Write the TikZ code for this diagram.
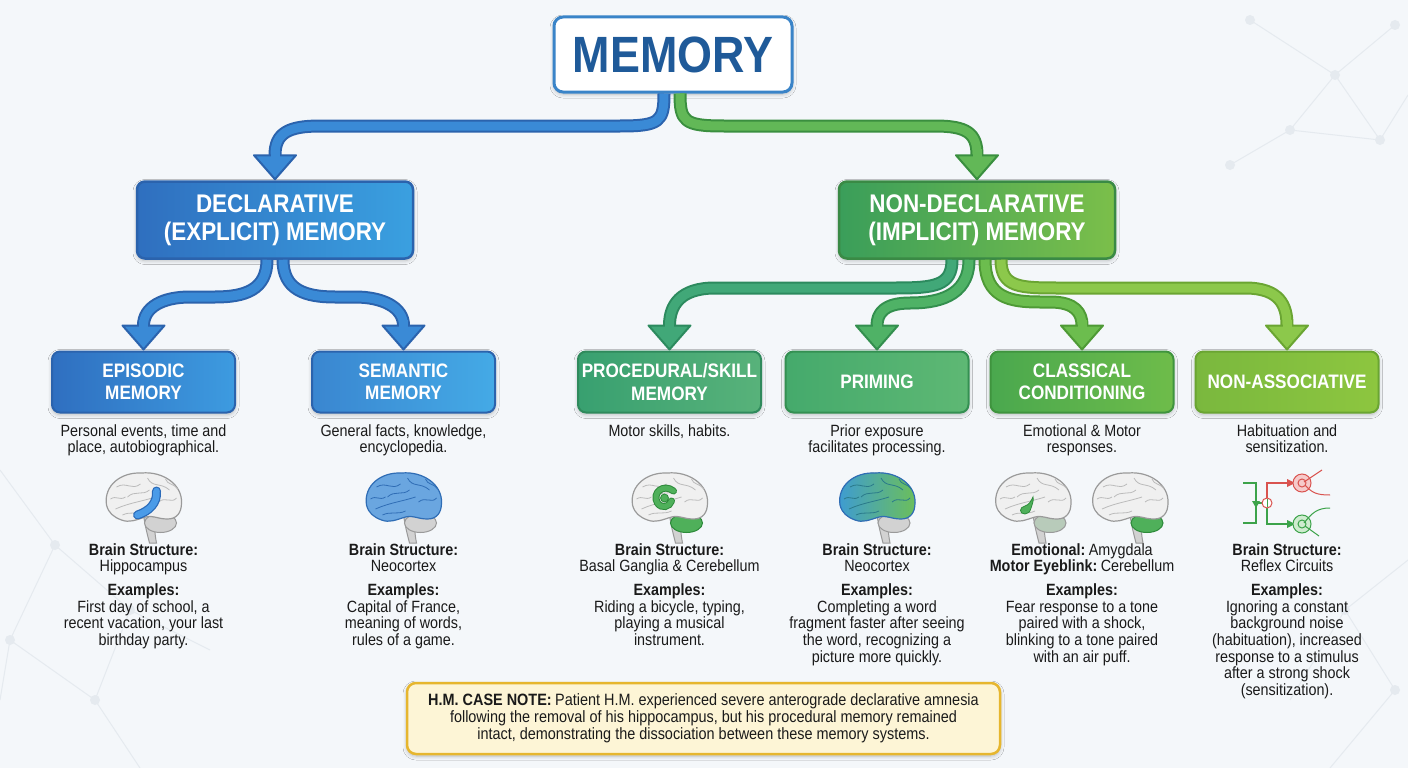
\documentclass[tikz,border=0pt]{standalone}
\usepackage{fontspec}
\setmainfont{Liberation Sans}[FakeStretch=0.88]
\usetikzlibrary{calc,shadows.blur}
\definecolor{bg}{HTML}{F4F7FA}
\definecolor{net}{HTML}{E5EAEF}
\definecolor{txt}{HTML}{1A1A1A}
\definecolor{memblue}{HTML}{1F5A99}
\definecolor{memborder}{HTML}{3A84C8}
\definecolor{bOut}{HTML}{2B63AD}
\definecolor{bFill}{HTML}{3A8AD6}
\definecolor{gOut}{HTML}{3A8F3F}
\definecolor{gFill}{HTML}{62B857}
\definecolor{pOut}{HTML}{2C8A5E}
\definecolor{pFill}{HTML}{41A878}
\definecolor{qOut}{HTML}{338F4E}
\definecolor{qFill}{HTML}{4FB266}
\definecolor{cOut}{HTML}{4E9A35}
\definecolor{cFill}{HTML}{6CBD4E}
\definecolor{nOut}{HTML}{6AA532}
\definecolor{nFill}{HTML}{8CC84B}
\definecolor{noteFill}{HTML}{FDF5D6}
\definecolor{noteBorder}{HTML}{E6B62E}
\definecolor{brGray}{HTML}{F0F0F0}
\definecolor{brLine}{HTML}{9A9A9A}
\definecolor{brGyri}{HTML}{BBBBBB}
\definecolor{cbGray}{HTML}{D2D2D2}
\definecolor{hiBlue}{HTML}{4A9BE8}
\definecolor{hiBlueD}{HTML}{2A6AB8}
\definecolor{hiGreen}{HTML}{4FB05A}
\definecolor{hiGreenD}{HTML}{2D8A3A}
\definecolor{rRed}{HTML}{D9534F}
\definecolor{rRedL}{HTML}{F6CACA}
\definecolor{rGreen}{HTML}{3CA34A}
\definecolor{rGreenL}{HTML}{CFECCF}
\definecolor{decL}{HTML}{2F6FBF}
\definecolor{decR}{HTML}{3AA0E0}
\definecolor{ndL}{HTML}{3A9E5A}
\definecolor{ndR}{HTML}{7BBF4A}
\definecolor{ndOut}{HTML}{3A8A45}
\definecolor{epL}{HTML}{2F6FC0}
\definecolor{epR}{HTML}{3D9BE0}
\definecolor{smL}{HTML}{3A86D0}
\definecolor{smR}{HTML}{44AAE6}
\definecolor{prL}{HTML}{38A070}
\definecolor{prR}{HTML}{58B27A}
\definecolor{prOut}{HTML}{2F8A5C}
\definecolor{pmL}{HTML}{45AA6C}
\definecolor{pmR}{HTML}{5EB874}
\definecolor{pmOut}{HTML}{349052}
\definecolor{clL}{HTML}{4AA84E}
\definecolor{clR}{HTML}{6EBC4A}
\definecolor{clOut}{HTML}{3F943E}
\definecolor{naL}{HTML}{7AB83E}
\definecolor{naR}{HTML}{8DC63F}
\definecolor{naOut}{HTML}{6AA532}
\definecolor{primL}{HTML}{3D9BD4}
\definecolor{primR}{HTML}{6CBF5A}
\definecolor{primLine}{HTML}{2A7A8A}
\definecolor{semFill}{HTML}{6AA6E0}
\definecolor{semLine}{HTML}{2F6DB5}
\tikzset{
  boxshadow/.style={blur shadow={shadow blur steps=8,shadow xshift=0pt,shadow yshift=-2pt,shadow opacity=25,shadow blur radius=4pt}},
  topbox/.style={draw=memborder,line width=3pt,fill=white,rounded corners=9pt,minimum width=238pt,minimum height=75pt,inner sep=0pt,boxshadow,
    font=\fontsize{51}{51}\selectfont\bfseries,text=memblue},
  midbox/.style={rounded corners=8pt,line width=2.5pt,minimum width=276pt,minimum height=77pt,inner sep=0pt,align=center,boxshadow,
    font=\fontsize{25.5}{28.5}\selectfont\bfseries,text=white},
  catbox/.style={rounded corners=8pt,line width=2pt,minimum width=183pt,minimum height=61pt,inner sep=0pt,align=center,boxshadow,
    font=\fontsize{19.5}{22.5}\selectfont\bfseries,text=white},
  desc/.style={anchor=north,align=center,inner sep=0pt,text=txt,font=\fontsize{16.3}{16.7}\selectfont},
  notebox/.style={draw=noteBorder,line width=2.5pt,fill=noteFill,rounded corners=9pt,minimum width=593pt,minimum height=71pt,align=center,inner sep=0pt,
    text=txt,font=\fontsize{16.4}{17}\selectfont,boxshadow},
  netline/.style={draw=net,line width=1pt},
  netdot/.style={fill=net},
}
\newcommand\flowarrow[4]{%
  \draw[line width=13pt,draw=#1,line join=round] #3;
  \draw[line width=9pt,draw=#2] #3;
  \filldraw[fill=#2,draw=#1,line width=2pt,line join=round] ($(#4.north)+(-21,-25)$) -- ($(#4.north)+(21,-25)$) -- ($(#4.north)+(0,-1)$) -- cycle;
  \draw[line width=9pt,draw=#2] ($(#4.north)+(0,-31)$) -- ($(#4.north)+(0,-22)$);
}
% brain: #1 cerebrum style, #2 gyri colour, #3 cerebellum style
\newcommand\brainicon[3]{%
  \filldraw[fill=cbGray,draw=brLine,line width=1pt] (0,12) .. controls (2,25) and (4,32) .. (6,40) -- (13,40) .. controls (11,30) and (11,22) .. (11,12) -- cycle;
  \filldraw[#3,line width=1pt] (17,20) ellipse [x radius=16,y radius=9.5];
  \filldraw[#1,line width=1.2pt] (-37,2) .. controls (-40,-18) and (-22,-31) .. (-2,-30) .. controls (20,-32) and (39,-18) .. (38,0) .. controls (38,10) and (33,16) .. (24,16) .. controls (14,16) and (10,12) .. (2,14) .. controls (-8,17) and (-14,20) .. (-22,17) .. controls (-30,14) and (-35,10) .. (-37,2) -- cycle;
  \draw[#2,line width=0.8pt] (-28,6) .. controls (-15,0) and (0,-2) .. (12,-6);
  \draw[#2,line width=0.8pt] (-27,-16) .. controls (-17,-22) and (-12,-12) .. (-3,-19);
  \draw[#2,line width=0.8pt] (4,-25) .. controls (9,-15) and (17,-21) .. (26,-13);
  \draw[#2,line width=0.8pt] (-16,-6) .. controls (-9,-13) and (-1,-7) .. (6,-13);
  \draw[#2,line width=0.8pt] (15,-1) .. controls (22,-7) and (28,1) .. (33,-5);
  \draw[#2,line width=0.8pt] (-21,12) .. controls (-13,8) and (-6,12) .. (2,8);
  \draw[#2,line width=0.8pt] (-33,-4) .. controls (-27,-8) and (-24,-2) .. (-18,-6);
  \draw[#2,line width=0.8pt] (22,-24) .. controls (24,-18) and (30,-20) .. (34,-14);
}
\begin{document}
\begin{tikzpicture}[x=1pt,y=-1pt]
\useasboundingbox (0,0) rectangle (1408,768);
\fill[bg] (0,0) rectangle (1408,768);
% faint network background
\draw[netline] (1250,20) -- (1335,75) -- (1395,25) (1335,75) -- (1290,130) -- (1380,140) -- (1408,95) (1335,75) -- (1380,140) (1290,130) -- (1230,165);
\foreach \p in {(1250,20),(1335,75),(1395,25),(1290,130),(1380,140),(1230,165)} \fill[netdot] \p circle (5);
\draw[netline] (0,470) -- (55,545) -- (10,640) -- (95,700) -- (140,768) (55,545) -- (130,610) -- (95,700) (10,640) -- (0,700) (130,610) -- (210,650);
\foreach \p in {(55,545),(10,640),(95,700),(130,610)} \fill[netdot] \p circle (5);
\draw[netline] (1408,560) -- (1345,610) -- (1395,690) -- (1330,768) (1345,610) -- (1290,700);
\foreach \p in {(1345,610),(1395,690)} \fill[netdot] \p circle (5);

% boxes
\node[topbox] (mem) at (673,54.5) {MEMORY};
\node[midbox,left color=decL,right color=decR,draw=bOut] (dec) at (275,220) {DECLARATIVE\\(EXPLICIT) MEMORY};
\node[midbox,left color=ndL,right color=ndR,draw=ndOut] (nondec) at (977,220) {NON-DECLARATIVE\\(IMPLICIT) MEMORY};
\node[catbox,left color=epL,right color=epR,draw=bOut] (epi) at (143.5,382) {EPISODIC\\MEMORY};
\node[catbox,left color=smL,right color=smR,draw=bOut] (sem) at (403.5,382) {SEMANTIC\\MEMORY};
\node[catbox,left color=prL,right color=prR,draw=prOut] (proc) at (669.5,382) {PROCEDURAL/SKILL\\MEMORY};
\node[catbox,left color=pmL,right color=pmR,draw=pmOut] (prim) at (877,382) {PRIMING};
\node[catbox,left color=clL,right color=clR,draw=clOut] (class) at (1082,382) {CLASSICAL\\CONDITIONING};
\node[catbox,left color=naL,right color=naR,draw=naOut] (nona) at (1287,382) {NON-ASSOCIATIVE};

% connectors
\flowarrow{bOut}{bFill}{($(mem.south)+(-9,0)$) .. controls +(0,28) and +(40,0) .. (620,126) -- (320,126) .. controls +(-32,0) and +(0,-22) .. ($(dec.north)+(0,-25)$)}{dec}
\flowarrow{gOut}{gFill}{($(mem.south)+(7,0)$) .. controls +(0,28) and +(-40,0) .. (724,126) -- (935,126) .. controls +(32,0) and +(0,-22) .. ($(nondec.north)+(0,-25)$)}{nondec}
\flowarrow{bOut}{bFill}{($(dec.south)+(-8,0)$) .. controls +(0,30) and +(30,0) .. (215,297) -- (190,297) .. controls +(-28,0) and +(0,-18) .. ($(epi.north)+(0,-25)$)}{epi}
\flowarrow{bOut}{bFill}{($(dec.south)+(8,0)$) .. controls +(0,30) and +(-30,0) .. (335,297) -- (355,297) .. controls +(28,0) and +(0,-18) .. ($(sem.north)+(0,-25)$)}{sem}
\flowarrow{pOut}{pFill}{($(nondec.south)+(-25,0)$) .. controls +(0,26) and +(40,0) .. (895,288) -- (715,288) .. controls +(-35,0) and +(0,-20) .. ($(proc.north)+(0,-25)$)}{proc}
\flowarrow{nOut}{nFill}{($(nondec.south)+(24,0)$) .. controls +(0,28) and +(-40,0) .. (1060,288) -- (1245,288) .. controls +(35,0) and +(0,-20) .. ($(nona.north)+(0,-25)$)}{nona}
\flowarrow{qOut}{qFill}{($(nondec.south)+(-8,0)$) .. controls +(0,38) and +(25,0) .. (910,303) .. controls +(-26,0) and +(0,-12) .. ($(prim.north)+(0,-25)$)}{prim}
\flowarrow{cOut}{cFill}{($(nondec.south)+(8,0)$) .. controls +(0,38) and +(-30,0) .. (1040,302) -- (1050,302) .. controls +(26,0) and +(0,-12) .. ($(class.north)+(0,-25)$)}{class}

% descriptions
\node[desc] (epiD) at (143.5,424) {Personal events, time and\\place, autobiographical.};
\node[desc] (semD) at (403.5,424) {General facts, knowledge,\\encyclopedia.};
\node[desc] (procD) at (669.5,424) {Motor skills, habits.};
\node[desc] (primD) at (877,424) {Prior exposure\\facilitates processing.};
\node[desc] (classD) at (1082,424) {Emotional \& Motor\\responses.};
\node[desc] (nonaD) at (1287,424) {Habituation and\\sensitization.};

% brain icons
\begin{scope}[shift={(143.5,503)}]
  \brainicon{fill=brGray,draw=brLine}{brGyri}{fill=cbGray,draw=brLine}
  \draw[line width=9pt,hiBlueD,line cap=round] (-6,12) .. controls (6,8) and (14,0) .. (13,-12);
  \draw[line width=6.5pt,hiBlue,line cap=round] (-6,12) .. controls (6,8) and (14,0) .. (13,-12);
\end{scope}
\begin{scope}[shift={(403.5,503)}]
  \brainicon{fill=semFill,draw=semLine}{semLine}{fill=cbGray,draw=brLine}
\end{scope}
\begin{scope}[shift={(669.5,503)}]
  \brainicon{fill=brGray,draw=brLine}{brGyri}{fill=hiGreen,draw=hiGreenD}
  \draw[line width=7pt,hiGreenD,line cap=round] (4,-12) .. controls (-6,-20) and (-18,-10) .. (-12,0) .. controls (-8,6) and (0,4) .. (2,-2);
  \draw[line width=5pt,hiGreen,line cap=round] (4,-12) .. controls (-6,-20) and (-18,-10) .. (-12,0) .. controls (-8,6) and (0,4) .. (2,-2);
  \filldraw[fill=hiGreen,draw=hiGreenD,line width=0.8pt] (-5,-5) circle (4);
\end{scope}
\begin{scope}[shift={(877,503)}]
  \brainicon{left color=primL,right color=primR,draw=semLine}{primLine}{fill=cbGray,draw=brLine}
\end{scope}
\begin{scope}[shift={(1033,503)}]
  \brainicon{fill=brGray,draw=brLine}{brGyri}{fill=cbGray!80!hiGreen,draw=brLine}
  \filldraw[fill=hiGreen,draw=hiGreenD,line width=0.8pt] (-8,11) .. controls (-14,11) and (-14,4) .. (-8,3) .. controls (-4,2) and (-2,-2) .. (0,-6) .. controls (1,-3) and (-1,2) .. (-2,5) .. controls (-3,9) and (-5,11) .. (-8,11) -- cycle;
\end{scope}
\begin{scope}[shift={(1130,503)}]
  \brainicon{fill=brGray,draw=brLine}{brGyri}{fill=hiGreen,draw=hiGreenD}
\end{scope}
% reflex circuit icon
\begin{scope}[shift={(1287,503)}]
  \draw[rGreen,line width=1.2pt] (-44,-20) -- (-31,-20) -- (-31,20) -- (-44,20);
  \fill[rGreen] (-35,-2) -- (-27,-2) -- (-31,5) -- cycle;
  \draw[rGreen,line width=1.2pt] (-31,0) -- (-25,0);
  \draw[rRed,line width=1.2pt] (-20,-5) -- (-20,-20) -- (2,-20);
  \fill[rRed] (0,-24) -- (8,-20) -- (0,-16) -- cycle;
  \draw[rGreen,line width=1.2pt] (-20,5) -- (-20,21) -- (2,21);
  \fill[rGreen] (0,17) -- (8,21) -- (0,25) -- cycle;
  \filldraw[fill=white,draw=rRed,line width=1pt] (-20,0) circle (5);
  \draw[rGreen,line width=1pt] (-20,-4) -- (-20,4);
  \filldraw[fill=rRedL,draw=rRed,line width=1pt] (15,-20) circle (9);
  \draw[rRed,line width=1pt] (15,-20) circle (4);
  \draw[rRed,line width=1pt] (17,-21) -- (35,-33);
  \draw[rRed,line width=1pt] (18,-18) .. controls (25,-10) and (30,-8) .. (43,-8);
  \filldraw[fill=rGreenL,draw=rGreen,line width=1pt] (15,21) circle (9);
  \draw[rGreen,line width=1pt] (15,21) circle (4);
  \draw[rGreen,line width=1pt] (17,20) .. controls (25,10) and (30,5) .. (43,5);
  \draw[rGreen,line width=1pt] (18,23) -- (32,33);
\end{scope}

% structures and examples
\node[desc] (epiS) at (143.5,543) {\textbf{Brain Structure:}\\Hippocampus\\[7pt]\textbf{Examples:}\\First day of school, a\\recent vacation, your last\\birthday party.};
\node[desc] (semS) at (403.5,543) {\textbf{Brain Structure:}\\Neocortex\\[7pt]\textbf{Examples:}\\Capital of France,\\meaning of words,\\rules of a game.};
\node[desc] (procS) at (669.5,543) {\textbf{Brain Structure:}\\Basal Ganglia \& Cerebellum\\[7pt]\textbf{Examples:}\\Riding a bicycle, typing,\\playing a musical\\instrument.};
\node[desc] (primS) at (877,543) {\textbf{Brain Structure:}\\Neocortex\\[7pt]\textbf{Examples:}\\Completing a word\\fragment faster after seeing\\the word, recognizing a\\picture more quickly.};
\node[desc] (classS) at (1082,543) {\textbf{Emotional:}\hspace{3.5pt}Amygdala\\\textbf{Motor Eyeblink:}\hspace{3.5pt}Cerebellum\\[7pt]\textbf{Examples:}\\Fear response to a tone\\paired with a shock,\\blinking to a tone paired\\with an air puff.};
\node[desc] (nonaS) at (1287,543) {\textbf{Brain Structure:}\\Reflex Circuits\\[7pt]\textbf{Examples:}\\Ignoring a constant\\background noise\\(habituation), increased\\response to a stimulus\\after a strong shock\\(sensitization).};

% note
\node[notebox] (note) at (703.5,718.5) {\textbf{H.M. CASE NOTE:}\hspace{3.5pt}Patient H.M. experienced severe anterograde declarative amnesia\\following the removal of his hippocampus, but his procedural memory remained\\intact, demonstrating the dissociation between these memory systems.};
\end{tikzpicture}
\end{document}
